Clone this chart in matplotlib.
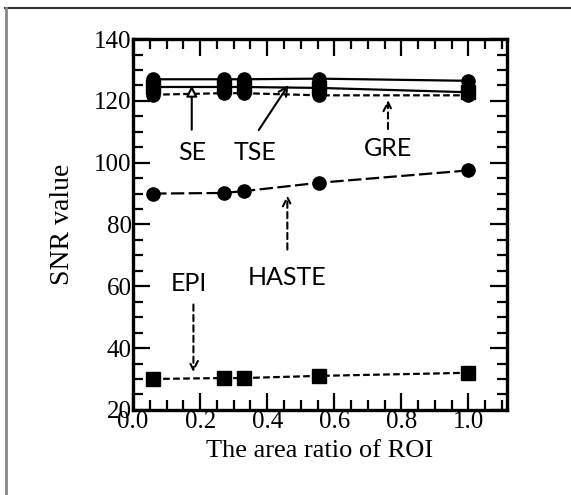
import matplotlib

matplotlib.use('Agg')
import matplotlib.pyplot as plt
from matplotlib.lines import Line2D
from matplotlib.ticker import MultipleLocator

# area ratio of ROI
ratio = [0.06, 0.27, 0.33, 0.555, 1.0]

se = [127.0, 127.0, 127.0, 127.2, 126.5]
tse = [124.5, 124.5, 124.5, 124.2, 122.8]
gre = [122.0, 122.5, 122.5, 121.8, 121.8]
haste = [90.0, 90.2, 90.8, 93.5, 97.5]
epi = [30.0, 30.3, 30.3, 31.0, 32.0]

x_ticks = [0.0, 0.2, 0.4, 0.6, 0.8, 1.0]
y_ticks = [20, 40, 60, 80, 100, 120, 140]

serif = 'Liberation Serif'
sans = 'Lato'

fig = plt.figure(figsize=(5.71, 4.95), dpi=100)
ax = fig.add_axes([0.233, 0.172, 0.655, 0.749])

ms = 9.5
ax.plot(ratio, se, '-', color='black', lw=1.6, marker='o', ms=ms, zorder=3)
ax.plot(ratio, tse, '-', color='black', lw=1.6, marker='s', ms=ms, zorder=3)
ax.plot(ratio, gre, '--', color='black', lw=1.6, dashes=(3, 1.5), marker='o', ms=ms, zorder=3)
ax.plot(ratio, haste, '--', color='black', lw=1.6, dashes=(6, 2), marker='o', ms=ms, zorder=3)
ax.plot(ratio, epi, '--', color='black', lw=1.6, dashes=(3, 1.5), marker='s', ms=ms, zorder=3)

# annotations
tfs = 18
ax.annotate('', xy=(0.175, 125.9), xytext=(0.175, 109.8),
            arrowprops=dict(arrowstyle='-|>', color='black', fc='white', lw=1.5, mutation_scale=16))
ax.text(0.176, 103.2, 'SE', family=sans, fontsize=tfs, ha='center', va='center')

ax.annotate('', xy=(0.468, 125.9), xytext=(0.37, 109.8),
            arrowprops=dict(arrowstyle='->', color='black', lw=1.5, mutation_scale=16))
ax.text(0.364, 103.2, 'TSE', family=sans, fontsize=tfs, ha='center', va='center')

ax.annotate('', xy=(0.76, 121.2), xytext=(0.76, 110.0),
            arrowprops=dict(arrowstyle='->', color='black', lw=1.5, ls=(0, (3, 2)), mutation_scale=16))
ax.text(0.761, 104.5, 'GRE', family=sans, fontsize=tfs, ha='center', va='center')

ax.annotate('', xy=(0.46, 90.4), xytext=(0.46, 71.0),
            arrowprops=dict(arrowstyle='->', color='black', lw=1.5, ls=(0, (3, 2)), mutation_scale=16))
ax.text(0.46, 63.0, 'HASTE', family=sans, fontsize=tfs, ha='center', va='center')

ax.annotate('', xy=(0.18, 31.3), xytext=(0.18, 55.0),
            arrowprops=dict(arrowstyle='->', color='black', lw=1.5, ls=(0, (3, 2)), mutation_scale=16))
ax.text(0.165, 61.0, 'EPI', family=sans, fontsize=tfs, ha='center', va='center')

ax.set_xlim(0.0, 1.115)
ax.set_ylim(20, 140)
ax.set_xticks(x_ticks)
ax.set_xticklabels(['%.1f' % v for v in x_ticks])
ax.set_yticks(y_ticks)
ax.xaxis.set_minor_locator(MultipleLocator(0.05))
ax.yaxis.set_minor_locator(MultipleLocator(5))
ax.tick_params(which='both', direction='in', top=True, right=True, width=1.6)
ax.tick_params(which='major', length=12, pad=1, labelsize=18)
ax.tick_params(which='minor', length=7)
for lab in ax.get_xticklabels() + ax.get_yticklabels():
    lab.set_family(serif)
for sp in ax.spines.values():
    sp.set_linewidth(2.4)

ax.set_ylabel('SNR value', family=serif, fontsize=20, labelpad=14)
ax.set_xlabel('The area ratio of ROI', family=serif, fontsize=19, labelpad=5)

# page frame (top and left edges only)
fig.add_artist(Line2D([0.009, 1.0], [0.984, 0.984], transform=fig.transFigure, color='#333333', lw=1.5))
fig.add_artist(Line2D([0.010, 0.010], [0.0, 0.984], transform=fig.transFigure, color='#888888', lw=2.0))

fig.savefig('out.png', dpi=100)
